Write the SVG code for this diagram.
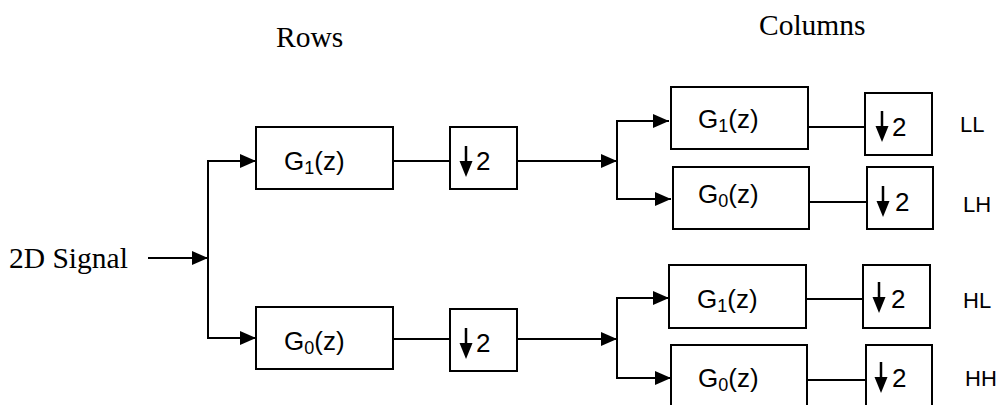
<svg xmlns="http://www.w3.org/2000/svg" width="999" height="405" viewBox="0 0 999 405">
<style>
.box{fill:#fff;stroke:#000;stroke-width:2}
.ln{fill:none;stroke:#000;stroke-width:2}
.serif{font-family:"Liberation Serif","Times New Roman",serif;font-size:29.5px;fill:#000}
.sans{font-family:"Liberation Sans",Arial,sans-serif;font-size:26px;fill:#000}
.sub{font-size:18px}
.lbl{font-family:"Liberation Sans",Arial,sans-serif;font-size:22px;fill:#000}
</style>
<defs>
<marker id="ah" markerUnits="userSpaceOnUse" markerWidth="17" markerHeight="16" refX="16" refY="8" orient="auto">
<path d="M0,1 L16,8 L0,15 Z" fill="#000"/>
</marker>
<g id="down">
<line x1="0" y1="0" x2="0" y2="20" stroke="#000" stroke-width="2.5"/>
<path d="M-6.5,15 L6.5,15 L0,31 Z" fill="#000"/>
</g>
</defs>

<text class="serif" x="276" y="47">Rows</text>
<text class="serif" x="759" y="35">Columns</text>
<text class="serif" x="9" y="268">2D Signal</text>

<g id="connectors">
<line class="ln" x1="148" y1="258" x2="208" y2="258" marker-end="url(#ah)"/>
<line class="ln" x1="208" y1="160" x2="208" y2="339"/>
<line class="ln" x1="208" y1="161" x2="256" y2="161" marker-end="url(#ah)"/>
<line class="ln" x1="208" y1="338" x2="256" y2="338" marker-end="url(#ah)"/>
<line class="ln" x1="393" y1="161" x2="450" y2="161"/>
<line class="ln" x1="517" y1="161" x2="617" y2="161" marker-end="url(#ah)"/>
<line class="ln" x1="617" y1="120" x2="617" y2="200"/>
<line class="ln" x1="617" y1="121" x2="669" y2="121" marker-end="url(#ah)"/>
<line class="ln" x1="617" y1="199" x2="671" y2="199" marker-end="url(#ah)"/>
<line class="ln" x1="808" y1="127" x2="865" y2="127"/>
<line class="ln" x1="809" y1="202" x2="867" y2="202"/>
<line class="ln" x1="393" y1="339" x2="450" y2="339"/>
<line class="ln" x1="517" y1="339" x2="617" y2="339" marker-end="url(#ah)"/>
<line class="ln" x1="617" y1="297" x2="617" y2="379"/>
<line class="ln" x1="617" y1="298" x2="669" y2="298" marker-end="url(#ah)"/>
<line class="ln" x1="617" y1="378" x2="671" y2="378" marker-end="url(#ah)"/>
<line class="ln" x1="806" y1="299" x2="863" y2="299"/>
<line class="ln" x1="808" y1="380" x2="866" y2="380"/>
</g>

<g id="rowG1">
<rect class="box" x="256" y="127" width="137" height="62"/>
<text class="sans" x="284" y="170">G<tspan class="sub" dy="4">1</tspan><tspan dy="-4">(z)</tspan></text>
</g>
<g id="rowG0">
<rect class="box" x="256" y="307" width="137" height="62"/>
<text class="sans" x="284" y="350">G<tspan class="sub" dy="4">0</tspan><tspan dy="-4">(z)</tspan></text>
</g>
<g id="rowD1">
<rect class="box" x="450" y="127" width="67" height="62"/>
<use href="#down" x="466" y="146"/>
<text class="sans" x="476" y="170">2</text>
</g>
<g id="rowD0">
<rect class="box" x="450" y="309" width="67" height="62"/>
<use href="#down" x="466" y="328"/>
<text class="sans" x="476" y="352">2</text>
</g>

<g id="colLL_G">
<rect class="box" x="671" y="87" width="137" height="62"/>
<text class="sans" x="698" y="128">G<tspan class="sub" dy="4">1</tspan><tspan dy="-4">(z)</tspan></text>
</g>
<g id="colLH_G">
<rect class="box" x="673" y="167" width="136" height="62"/>
<text class="sans" x="698" y="203">G<tspan class="sub" dy="4">0</tspan><tspan dy="-4">(z)</tspan></text>
</g>
<g id="colHL_G">
<rect class="box" x="669" y="265" width="137" height="63"/>
<text class="sans" x="697" y="308">G<tspan class="sub" dy="4">1</tspan><tspan dy="-4">(z)</tspan></text>
</g>
<g id="colHH_G">
<rect class="box" x="671" y="345" width="136" height="62"/>
<text class="sans" x="698" y="387">G<tspan class="sub" dy="4">0</tspan><tspan dy="-4">(z)</tspan></text>
</g>

<g id="colLL_D">
<rect class="box" x="865" y="93" width="67" height="62"/>
<use href="#down" x="882" y="111"/>
<text class="sans" x="892" y="136">2</text>
</g>
<g id="colLH_D">
<rect class="box" x="867" y="167" width="66" height="62"/>
<use href="#down" x="883" y="186"/>
<text class="sans" x="895" y="211">2</text>
</g>
<g id="colHL_D">
<rect class="box" x="863" y="265" width="67" height="63"/>
<use href="#down" x="879" y="282"/>
<text class="sans" x="891" y="308">2</text>
</g>
<g id="colHH_D">
<rect class="box" x="866" y="345" width="66" height="62"/>
<use href="#down" x="881" y="362"/>
<text class="sans" x="892" y="387">2</text>
</g>

<text class="lbl" x="960" y="132">LL</text>
<text class="lbl" x="963" y="212">LH</text>
<text class="lbl" x="963" y="308">HL</text>
<text class="lbl" x="965" y="386">HH</text>
</svg>
